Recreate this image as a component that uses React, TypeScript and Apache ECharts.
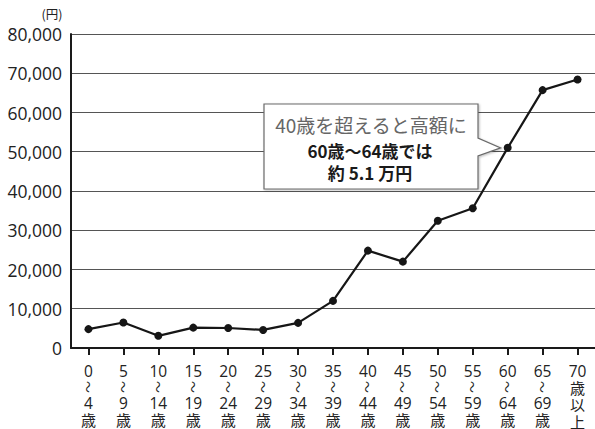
import React, { useEffect, useRef } from "react";
import * as echarts from "echarts";

// Age bands (start / end age) and average annual amount per person, in yen
const ageStarts = ["0", "5", "10", "15", "20", "25", "30", "35", "40", "45", "50", "55", "60", "65", "70"];
const ageEnds = ["4", "9", "14", "19", "24", "29", "34", "39", "44", "49", "54", "59", "64", "69", ""];
const amounts = [4800, 6500, 3100, 5200, 5100, 4600, 6400, 12000, 24800, 22000, 32400, 35600, 51000, 65700, 68400];

const yTicks = { min: 0, max: 80000, interval: 10000 };
const unitLabel = "(円)";
const calloutLines = ["40歳を超えると高額に", "60歳〜64歳では", "約 5.1 万円"];
const calloutIndex = 12;

const FONT = "'Noto Sans CJK JP', 'Noto Sans', sans-serif";
const NUM_FONT = "'Open Sans', 'Noto Sans', sans-serif";

// Vertical label: start age, (room for the turned wave dash), end age, 歳 — or 歳以上 for the last band
function categoryLabel(i: number): string {
  if (ageEnds[i] === "") return [`{n|${ageStarts[i]}}`, "{k|歳}", "{k|以}", "{k|上}"].join("\n");
  return [`{n|${ageStarts[i]}}`, "{w| }", `{n|${ageEnds[i]}}`, "{k|歳}"].join("\n");
}

export default function App() {
  const ref = useRef<HTMLDivElement>(null);

  useEffect(() => {
    document.body.style.margin = "0";
    if (!ref.current) return;
    const chart = echarts.init(ref.current, undefined, { renderer: "svg" });
    const categories = ageStarts.map((s, i) => (ageEnds[i] ? `${s}～${ageEnds[i]}歳` : `${s}歳以上`));

    chart.setOption({
      animation: false,
      backgroundColor: "#ffffff",
      textStyle: { fontFamily: FONT },
      grid: { left: 71, right: -7, top: 34, bottom: 80, containLabel: false },
      xAxis: [
        {
          type: "category",
          data: categories,
          position: "bottom",
          boundaryGap: true,
          axisLine: { show: true, lineStyle: { color: "#1a1a1a", width: 2 } },
          axisTick: { show: true, alignWithLabel: true, length: 7, lineStyle: { color: "#1a1a1a", width: 2 } },
          axisLabel: {
            interval: 0,
            margin: 15,
            color: "#222",
            formatter: (_v: string, i: number) => categoryLabel(i),
            rich: {
              n: { fontFamily: NUM_FONT, fontSize: 15.5, lineHeight: 16, color: "#222" },
              w: { fontFamily: FONT, fontSize: 12, lineHeight: 16, color: "#222" },
              k: { fontFamily: FONT, fontSize: 15, lineHeight: 17, color: "#222" },
            },
          },
          splitLine: { show: false },
        },
        {
          // The range dash "〜", turned to run down between the two ages
          type: "category",
          data: categories,
          position: "bottom",
          offset: 0,
          boundaryGap: true,
          axisLine: { show: false },
          axisTick: { show: false },
          splitLine: { show: false },
          axisLabel: {
            interval: 0,
            rotate: -90,
            margin: 33,
            fontSize: 12,
            color: "#222",
            fontFamily: FONT,
            formatter: (_v: string, i: number) => (ageEnds[i] ? "〜" : ""),
          },
        },
      ],
      yAxis: {
        type: "value",
        min: yTicks.min,
        max: yTicks.max,
        interval: yTicks.interval,
        axisLine: { show: true, lineStyle: { color: "#1a1a1a", width: 2 } },
        axisTick: { show: false },
        axisLabel: {
          margin: 9,
          fontSize: 17.5,
          color: "#222",
          fontFamily: NUM_FONT,
          formatter: (v: number) => v.toLocaleString("en-US"),
        },
        splitLine: { show: true, lineStyle: { color: "#555", width: 1 } },
      },
      series: [
        {
          type: "line",
          data: amounts,
          symbol: "circle",
          symbolSize: 8,
          lineStyle: { color: "#161616", width: 2.2 },
          itemStyle: { color: "#161616" },
          z: 5,
        },
      ],
    });

    // Callout box with a pointer aimed at the 60–64 point
    const tip = chart.convertToPixel({ seriesIndex: 0 }, [calloutIndex, amounts[calloutIndex]]) as number[];
    const box = { l: 264, r: 478, t: 104, b: 189 };
    const tipX = tip[0] - 7;
    const tipY = tip[1];

    chart.setOption({
      graphic: [
        {
          type: "text",
          x: 52,
          y: 13,
          style: {
            text: unitLabel,
            fontSize: 12.5,
            fill: "#222",
            fontFamily: FONT,
            align: "center",
            verticalAlign: "middle",
          },
        },
        {
          type: "polygon",
          z: 10,
          shape: {
            points: [
              [box.l, box.t],
              [box.r, box.t],
              [box.r, 138],
              [tipX, tipY],
              [box.r, 156],
              [box.r, box.b],
              [box.l, box.b],
            ],
          },
          style: {
            fill: "#ffffff",
            stroke: "#6a6a6a",
            lineWidth: 1.2,
            shadowBlur: 2,
            shadowOffsetX: 1,
            shadowOffsetY: 1,
            shadowColor: "rgba(0,0,0,0.25)",
          },
        },
        {
          type: "text",
          z: 11,
          x: 371,
          y: 124,
          style: {
            text: calloutLines[0],
            fontSize: 19,
            fill: "#666",
            fontFamily: FONT,
            align: "center",
            verticalAlign: "middle",
          },
        },
        {
          type: "text",
          z: 11,
          x: 370,
          y: 150,
          style: {
            text: calloutLines[1],
            fontSize: 17,
            fontWeight: "bold",
            fill: "#1a1a1a",
            fontFamily: FONT,
            align: "center",
            verticalAlign: "middle",
          },
        },
        {
          type: "text",
          z: 11,
          x: 370,
          y: 172,
          style: {
            text: calloutLines[2],
            fontSize: 17,
            fontWeight: "bold",
            fill: "#1a1a1a",
            fontFamily: FONT,
            align: "center",
            verticalAlign: "middle",
          },
        },
      ],
    });

    return () => chart.dispose();
  }, []);

  return (
    <div
      ref={ref}
      style={{ position: "fixed", left: 0, top: 0, width: 595, height: 429, background: "#fff" }}
    />
  );
}
